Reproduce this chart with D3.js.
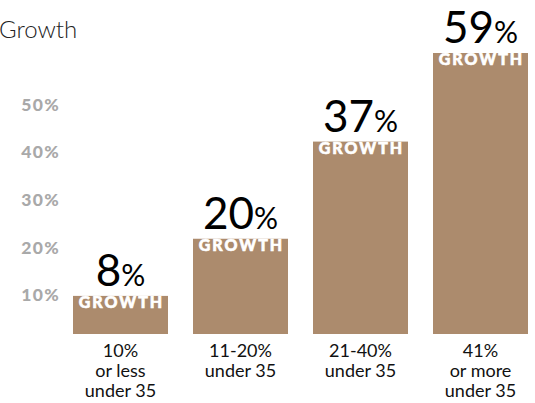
<!DOCTYPE html>
<html>
<head>
<meta charset="utf-8">
<script src="https://cdn.jsdelivr.net/npm/d3@7"></script>
<style>
  body { margin: 0; background: #fff; }
  svg { display: block; font-family: Lato, "Open Sans", sans-serif; }
</style>
</head>
<body>
<div id="chart"></div>
<script>
// ====== Growth by share of staff under 35 ======

// categories (lines of the label under each bar)
var categories = [
    ['10%', 'or less', 'under 35'],
    ['11-20%', 'under 35'],
    ['21-40%', 'under 35'],
    ['41%', 'or more', 'under 35']
];

// printed growth values
var growth = [8, 20, 37, 59];

// bar heights as drawn, read against the axis (the third bar is drawn taller than its label)
var barHeights = [8, 20, 40.4, 59];

// axis tick values
var ticks = [10, 20, 30, 40, 50];

var width = 535,
    height = 403,
    barColor = '#ac8b6d';

var svg = d3.select('#chart')
    .append('svg')
    .attr('width', width)
    .attr('height', height);

// Scales:
var x = d3.scaleBand()
    .domain(d3.range(categories.length))
    .range([73, 528])
    .paddingInner(25 / 120)
    .paddingOuter(0);

var y = d3.scaleLinear()
    .domain([0, 59])
    .range([334, 53]);

// Title (cropped at the left in the original)
svg.append('text')
    .attr('x', -1)
    .attr('y', 38)
    .attr('font-size', 24)
    .attr('font-weight', 300)
    .attr('fill', '#222')
    .text('Growth');

// Axis labels:
svg.append('g')
    .attr('class', 'axis')
    .selectAll('text')
    .data(ticks)
  .enter().append('text')
    .attr('x', 60)
    .attr('y', function(d) { return y(d) + 15; })
    .attr('text-anchor', 'end')
    .attr('font-size', 17.5)
    .attr('font-weight', 900)
    .attr('letter-spacing', 1.3)
    .attr('fill', '#a9a9a9')
    .text(function(d) { return d + '%'; });

// Bars:
var bars = svg.append('g')
    .attr('class', 'bars')
    .selectAll('g')
    .data(barHeights)
  .enter().append('g');

bars.append('rect')
    .attr('x', function(d, i) { return x(i); })
    .attr('y', function(d) { return y(d); })
    .attr('width', x.bandwidth())
    .attr('height', function(d) { return y(0) - y(d); })
    .attr('fill', barColor);

// GROWTH caption inside the bar top:
bars.append('text')
    .attr('x', function(d, i) { return x(i) + x.bandwidth() / 2 + 1; })
    .attr('y', function(d) { return y(d) + 12; })
    .attr('text-anchor', 'middle')
    .attr('font-size', 16)
    .attr('font-weight', 900)
    .attr('letter-spacing', 2)
    .attr('stroke', '#fff')
    .attr('stroke-width', 0.6)
    .attr('fill', '#fff')
    .text('GROWTH');

// Value labels:
var values = bars.append('text')
    .attr('x', function(d, i) { return x(i) + x.bandwidth() / 2; })
    .attr('y', function(d) { return y(d) - 10; })
    .attr('text-anchor', 'middle')
    .attr('fill', '#000');

values.append('tspan')
    .attr('font-size', 44)
    .text(function(d, i) { return growth[i]; });

values.append('tspan')
    .attr('font-size', 30)
    .text('%');

// Category labels:
var cats = svg.append('g')
    .attr('class', 'categories')
    .selectAll('text')
    .data(categories)
  .enter().append('text')
    .attr('text-anchor', 'middle')
    .attr('font-size', 18)
    .attr('fill', '#111');

cats.selectAll('tspan')
    .data(function(d, i) { return d.map(function(line, j) { return { line: line, i: i, j: j }; }); })
  .enter().append('tspan')
    .attr('x', function(d) { return x(d.i) + x.bandwidth() / 2; })
    .attr('y', function(d) { return 357 + d.j * 20; })
    .text(function(d) { return d.line; });
</script>
</body>
</html>
